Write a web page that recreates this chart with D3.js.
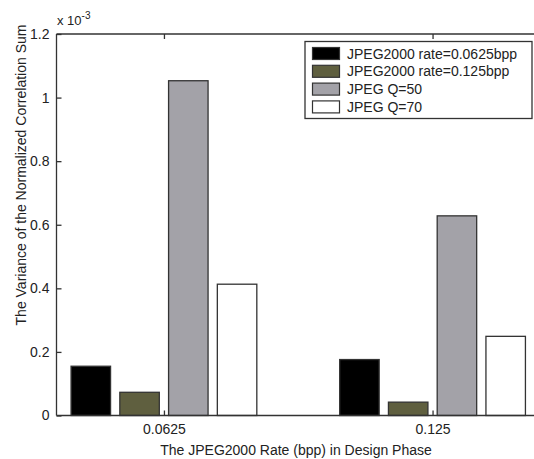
<!DOCTYPE html>
<html>
<head>
<meta charset="utf-8">
<script src="https://cdn.jsdelivr.net/npm/d3@7"></script>
<style>
  html, body { margin: 0; padding: 0; background: #fff; }
  svg { display: block; font-family: "Liberation Sans", Arial, sans-serif; }
</style>
</head>
<body>
<svg id="chart" width="534" height="459"></svg>
<script>
// Design-phase JPEG2000 rates (group labels along the x axis)
const rates = ["0.0625", "0.125"];
// Series names shown in the legend
const seriesNames = ["JPEG2000 rate=0.0625bpp", "JPEG2000 rate=0.125bpp", "JPEG Q=50", "JPEG Q=70"];
const seriesColors = ["#000000", "#5f5f3f", "#a3a2a8", "#ffffff"];
// Variance values (x 10^-3), one array per series, one entry per rate
const jp2k0625 = [0.155, 0.176];
const jp2k125 = [0.073, 0.042];
const jpegQ50 = [1.053, 0.628];
const jpegQ70 = [0.413, 0.249];
const yTicks = [0, 0.2, 0.4, 0.6, 0.8, 1, 1.2];

const series = [jp2k0625, jp2k125, jpegQ50, jpegQ70];

const svg = d3.select("#chart");
const plotL = 56.5, plotT = 34, plotB = 415.5, plotR = 540;

// groups sit at integer positions 1..n on a linear axis
const x = d3.scaleLinear().domain([0.6, rates.length + 0.4]).range([plotL, plotR]);
const y = d3.scaleLinear().domain([0, 1.2]).range([plotB, plotT]);

const barW = 0.147, pitch = 0.1815;

// bars
series.forEach((vals, si) => {
  svg.append("g").selectAll("rect")
    .data(vals)
    .join("rect")
    .attr("x", (d, i) => x(i + 1 + (si - 1.5) * pitch - barW / 2))
    .attr("width", x(1 + barW) - x(1))
    .attr("y", d => y(d))
    .attr("height", d => y(0) - y(d))
    .attr("fill", seriesColors[si])
    .attr("stroke", "#333")
    .attr("stroke-width", 1.3);
});

// axes (ticks point inward)
const tickFmt = d => d3.format("")(d);
const yAxis = d3.axisLeft(y).tickValues(yTicks).tickSize(-5).tickPadding(7).tickFormat(tickFmt);
const gy = svg.append("g").attr("transform", `translate(${plotL},0)`).call(yAxis);

const xAxis = d3.axisBottom(x).tickValues(rates.map((r, i) => i + 1))
  .tickSize(-5).tickPadding(9).tickFormat((d, i) => rates[i]);
const gx = svg.append("g").attr("transform", `translate(0,${plotB})`).call(xAxis);

const xTop = d3.axisTop(x).tickValues(rates.map((r, i) => i + 1)).tickSize(-5).tickFormat("");
const gxt = svg.append("g").attr("transform", `translate(0,${plotT})`).call(xTop);

[gy, gx, gxt].forEach(g => {
  g.selectAll(".domain").attr("stroke", "#333").attr("stroke-width", 1.3);
  g.selectAll(".tick line").attr("stroke", "#333").attr("stroke-width", 1.3);
  g.selectAll("text").attr("fill", "#222").style("font-size", "14px")
    .style("font-family", "'Liberation Sans', Arial, sans-serif");
});
gy.select(".domain").attr("d", `M0,${plotB}V${plotT}`);
gx.select(".domain").attr("d", `M${plotL},0H${plotR}`);
gxt.select(".domain").attr("d", `M${plotL},0H${plotR}`);

// exponent label
const expo = svg.append("text").attr("x", 57).attr("y", 25)
  .attr("fill", "#222").style("font-size", "13px");
expo.append("tspan").text("x 10");
expo.append("tspan").attr("dy", -6).style("font-size", "10px").text("-3");

// axis titles
svg.append("text").attr("x", 296).attr("y", 455).attr("text-anchor", "middle")
  .attr("fill", "#222").style("font-size", "14px")
  .text("The JPEG2000 Rate (bpp) in Design Phase");
svg.append("text").attr("transform", "translate(26,175) rotate(-90)")
  .attr("text-anchor", "middle").attr("fill", "#222").style("font-size", "14px")
  .text("The Variance of the Normalized Correlation Sum");

// legend
const lg = svg.append("g");
lg.append("rect").attr("x", 305).attr("y", 41.5).attr("width", 227).attr("height", 77)
  .attr("fill", "#fff").attr("stroke", "#333").attr("stroke-width", 1.3);
seriesNames.forEach((name, i) => {
  const yy = 47.5 + i * 17.8;
  lg.append("rect").attr("x", 312.5).attr("y", yy).attr("width", 27).attr("height", 12)
    .attr("fill", seriesColors[i]).attr("stroke", "#333").attr("stroke-width", 1.2);
  lg.append("text").attr("x", 347).attr("y", yy + 11).attr("fill", "#222")
    .style("font-size", "14px").text(name);
});
</script>
</body>
</html>
